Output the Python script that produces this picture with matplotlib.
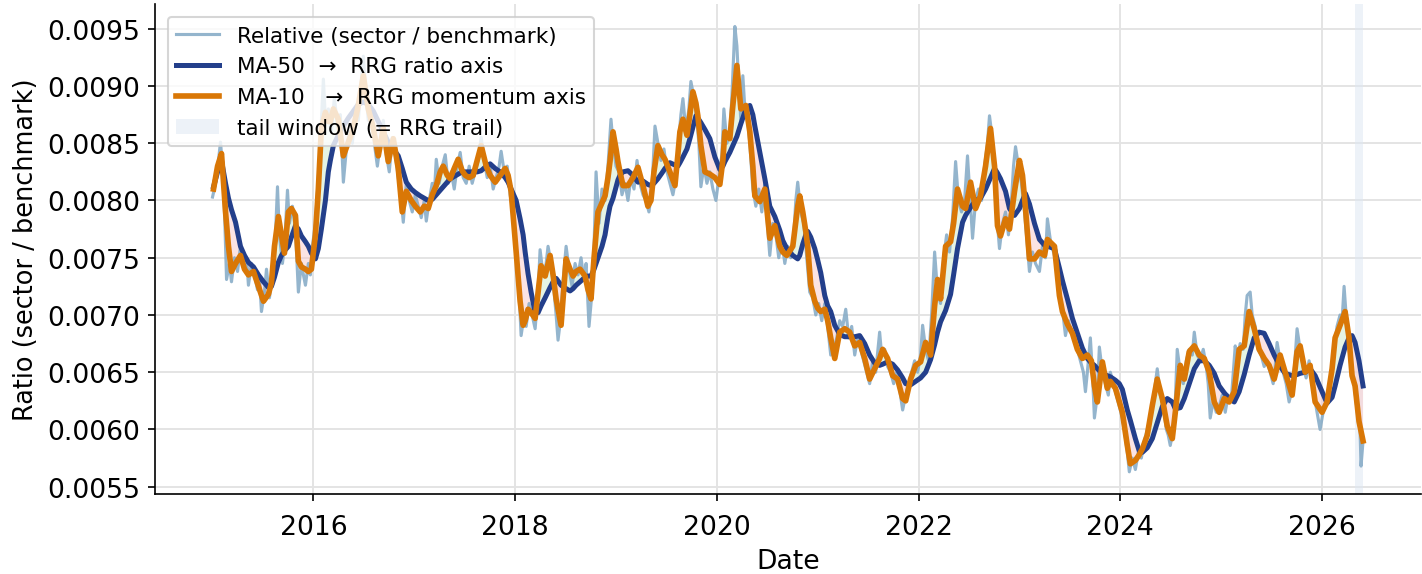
import numpy as np
import pandas as pd
import matplotlib
matplotlib.use("Agg")
import matplotlib.pyplot as plt
import matplotlib.dates as mdates
from matplotlib.patches import Patch

# relative ratio (sector / benchmark), time in decimal years
rel_years = [
    2015.000, 2015.030, 2015.059, 2015.079, 2015.099, 2015.119, 2015.139, 2015.168, 2015.188, 2015.218,
    2015.248, 2015.277, 2015.307, 2015.337, 2015.356, 2015.386, 2015.416, 2015.446, 2015.465, 2015.485,
    2015.515, 2015.535, 2015.564, 2015.594, 2015.624, 2015.644, 2015.663, 2015.693, 2015.713, 2015.743,
    2015.762, 2015.792, 2015.822, 2015.851, 2015.881, 2015.901, 2015.921, 2015.950, 2015.970, 2015.990,
    2016.020, 2016.049, 2016.069, 2016.099, 2016.119, 2016.148, 2016.178, 2016.208, 2016.238, 2016.267,
    2016.297, 2016.327, 2016.356, 2016.386, 2016.416, 2016.445, 2016.475, 2016.495, 2016.515, 2016.544,
    2016.574, 2016.604, 2016.634, 2016.663, 2016.693, 2016.723, 2016.752, 2016.782, 2016.812, 2016.841,
    2016.871, 2016.891, 2016.921, 2016.950, 2016.980, 2017.010, 2017.039, 2017.069, 2017.099, 2017.119,
    2017.148, 2017.178, 2017.198, 2017.218, 2017.247, 2017.277, 2017.307, 2017.336, 2017.366, 2017.396,
    2017.426, 2017.455, 2017.485, 2017.515, 2017.544, 2017.574, 2017.604, 2017.633, 2017.663, 2017.693,
    2017.723, 2017.752, 2017.782, 2017.812, 2017.841, 2017.861, 2017.891, 2017.921, 2017.950, 2017.980,
    2018.010, 2018.039, 2018.059, 2018.089, 2018.109, 2018.138, 2018.168, 2018.198, 2018.227, 2018.247,
    2018.277, 2018.307, 2018.326, 2018.356, 2018.386, 2018.406, 2018.425, 2018.455, 2018.475, 2018.505,
    2018.534, 2018.564, 2018.594, 2018.623, 2018.653, 2018.683, 2018.703, 2018.732, 2018.762, 2018.782,
    2018.802, 2018.831, 2018.861, 2018.891, 2018.920, 2018.950, 2018.970, 2019.000, 2019.029, 2019.059,
    2019.089, 2019.118, 2019.148, 2019.178, 2019.208, 2019.237, 2019.267, 2019.297, 2019.326, 2019.356,
    2019.386, 2019.415, 2019.445, 2019.475, 2019.505, 2019.534, 2019.564, 2019.594, 2019.623, 2019.643,
    2019.663, 2019.693, 2019.722, 2019.742, 2019.772, 2019.802, 2019.821, 2019.841, 2019.871, 2019.901,
    2019.930, 2019.960, 2019.990, 2020.019, 2020.049, 2020.069, 2020.099, 2020.128, 2020.148, 2020.178,
    2020.198, 2020.217, 2020.237, 2020.257, 2020.277, 2020.306, 2020.326, 2020.356, 2020.386, 2020.415,
    2020.445, 2020.475, 2020.504, 2020.524, 2020.554, 2020.584, 2020.613, 2020.643, 2020.673, 2020.702,
    2020.732, 2020.762, 2020.782, 2020.801, 2020.831, 2020.861, 2020.891, 2020.920, 2020.950, 2020.980,
    2021.009, 2021.039, 2021.069, 2021.098, 2021.128, 2021.158, 2021.188, 2021.217, 2021.247, 2021.277,
    2021.306, 2021.336, 2021.366, 2021.395, 2021.425, 2021.455, 2021.485, 2021.514, 2021.544, 2021.574,
    2021.613, 2021.633, 2021.663, 2021.692, 2021.722, 2021.752, 2021.782, 2021.811, 2021.841, 2021.871,
    2021.900, 2021.930, 2021.960, 2021.989, 2022.019, 2022.039, 2022.069, 2022.098, 2022.128, 2022.158,
    2022.187, 2022.217, 2022.247, 2022.277, 2022.306, 2022.336, 2022.366, 2022.395, 2022.425, 2022.455,
    2022.484, 2022.504, 2022.534, 2022.564, 2022.593, 2022.623, 2022.653, 2022.682, 2022.702, 2022.722,
    2022.742, 2022.762, 2022.781, 2022.801, 2022.831, 2022.861, 2022.890, 2022.920, 2022.940, 2022.960,
    2022.989, 2023.019, 2023.049, 2023.078, 2023.098, 2023.128, 2023.158, 2023.197, 2023.227, 2023.257,
    2023.276, 2023.306, 2023.336, 2023.366, 2023.395, 2023.425, 2023.455, 2023.484, 2023.514, 2023.544,
    2023.573, 2023.603, 2023.633, 2023.653, 2023.672, 2023.702, 2023.722, 2023.742, 2023.771, 2023.791,
    2023.821, 2023.851, 2023.880, 2023.900, 2023.930, 2023.960, 2023.989, 2024.019, 2024.039, 2024.068,
    2024.088, 2024.118, 2024.148, 2024.177, 2024.207, 2024.237, 2024.266, 2024.296, 2024.326, 2024.346,
    2024.365, 2024.395, 2024.425, 2024.455, 2024.474, 2024.494, 2024.524, 2024.544, 2024.563, 2024.593,
    2024.623, 2024.653, 2024.682, 2024.712, 2024.732, 2024.761, 2024.791, 2024.821, 2024.851, 2024.870,
    2024.890, 2024.920, 2024.950, 2024.979, 2025.009, 2025.039, 2025.068, 2025.098, 2025.138, 2025.157,
    2025.187, 2025.217, 2025.237, 2025.256, 2025.286, 2025.306, 2025.336, 2025.365, 2025.395, 2025.425,
    2025.454, 2025.484, 2025.514, 2025.534, 2025.553, 2025.583, 2025.613, 2025.643, 2025.672, 2025.702,
    2025.722, 2025.751, 2025.781, 2025.811, 2025.841, 2025.870, 2025.900, 2025.930, 2025.949, 2025.979,
    2026.009, 2026.039, 2026.068, 2026.088, 2026.118, 2026.147, 2026.177, 2026.197, 2026.217, 2026.237,
    2026.256, 2026.276, 2026.296, 2026.316, 2026.336, 2026.355, 2026.375, 2026.385, 2026.405,
]
rel_values = [
    0.00803, 0.00815, 0.00835, 0.00851, 0.00830, 0.00790, 0.00731, 0.00745, 0.00729, 0.00750,
    0.00738, 0.00760, 0.00742, 0.00750, 0.00726, 0.00745, 0.00735, 0.00722, 0.00733, 0.00703,
    0.00720, 0.00740, 0.00715, 0.00735, 0.00770, 0.00812, 0.00770, 0.00745, 0.00760, 0.00809,
    0.00780, 0.00795, 0.00775, 0.00720, 0.00745, 0.00735, 0.00726, 0.00745, 0.00735, 0.00760,
    0.00780, 0.00820, 0.00850, 0.00906, 0.00870, 0.00880, 0.00860, 0.00890, 0.00865, 0.00875,
    0.00816, 0.00845, 0.00860, 0.00850, 0.00880, 0.00870, 0.00905, 0.00926, 0.00900, 0.00870,
    0.00880, 0.00850, 0.00830, 0.00850, 0.00870, 0.00840, 0.00825, 0.00855, 0.00840, 0.00820,
    0.00800, 0.00781, 0.00815, 0.00800, 0.00790, 0.00805, 0.00795, 0.00785, 0.00800, 0.00782,
    0.00800, 0.00815, 0.00805, 0.00836, 0.00815, 0.00830, 0.00840, 0.00815, 0.00825, 0.00810,
    0.00830, 0.00842, 0.00820, 0.00815, 0.00830, 0.00815, 0.00825, 0.00835, 0.00855, 0.00835,
    0.00820, 0.00830, 0.00810, 0.00820, 0.00830, 0.00843, 0.00825, 0.00830, 0.00805, 0.00790,
    0.00750, 0.00720, 0.00682, 0.00700, 0.00690, 0.00710, 0.00700, 0.00688, 0.00720, 0.00757,
    0.00735, 0.00745, 0.00760, 0.00745, 0.00720, 0.00700, 0.00678, 0.00700, 0.00730, 0.00760,
    0.00740, 0.00725, 0.00745, 0.00735, 0.00750, 0.00730, 0.00745, 0.00690, 0.00720, 0.00760,
    0.00825, 0.00780, 0.00810, 0.00800, 0.00830, 0.00871, 0.00850, 0.00830, 0.00825, 0.00805,
    0.00815, 0.00800, 0.00820, 0.00810, 0.00835, 0.00815, 0.00805, 0.00800, 0.00790, 0.00810,
    0.00865, 0.00850, 0.00835, 0.00845, 0.00825, 0.00815, 0.00805, 0.00820, 0.00855, 0.00875,
    0.00889, 0.00860, 0.00880, 0.00904, 0.00890, 0.00870, 0.00850, 0.00812, 0.00830, 0.00815,
    0.00825, 0.00810, 0.00800, 0.00820, 0.00840, 0.00880, 0.00850, 0.00860, 0.00890, 0.00952,
    0.00935, 0.00900, 0.00870, 0.00909, 0.00880, 0.00870, 0.00850, 0.00810, 0.00795, 0.00810,
    0.00790, 0.00815, 0.00775, 0.00752, 0.00780, 0.00770, 0.00750, 0.00765, 0.00745, 0.00760,
    0.00750, 0.00770, 0.00800, 0.00816, 0.00790, 0.00780, 0.00750, 0.00720, 0.00715, 0.00700,
    0.00710, 0.00695, 0.00710, 0.00690, 0.00665, 0.00670, 0.00680, 0.00695, 0.00690, 0.00705,
    0.00680, 0.00690, 0.00665, 0.00680, 0.00670, 0.00660, 0.00650, 0.00640, 0.00660, 0.00650,
    0.00685, 0.00665, 0.00670, 0.00655, 0.00650, 0.00640, 0.00650, 0.00635, 0.00617, 0.00630,
    0.00640, 0.00650, 0.00660, 0.00650, 0.00665, 0.00691, 0.00670, 0.00660, 0.00700, 0.00755,
    0.00720, 0.00710, 0.00750, 0.00770, 0.00755, 0.00785, 0.00834, 0.00800, 0.00790, 0.00800,
    0.00839, 0.00810, 0.00767, 0.00800, 0.00810, 0.00800, 0.00830, 0.00850, 0.00874, 0.00860,
    0.00840, 0.00800, 0.00780, 0.00758, 0.00780, 0.00790, 0.00770, 0.00800, 0.00830, 0.00847,
    0.00830, 0.00815, 0.00790, 0.00760, 0.00738, 0.00755, 0.00745, 0.00738, 0.00760, 0.00750,
    0.00784, 0.00765, 0.00755, 0.00745, 0.00720, 0.00705, 0.00682, 0.00695, 0.00685, 0.00680,
    0.00670, 0.00660, 0.00650, 0.00633, 0.00650, 0.00680, 0.00650, 0.00610, 0.00630, 0.00672,
    0.00650, 0.00640, 0.00630, 0.00650, 0.00640, 0.00630, 0.00620, 0.00610, 0.00600, 0.00580,
    0.00563, 0.00575, 0.00565, 0.00580, 0.00575, 0.00590, 0.00600, 0.00610, 0.00625, 0.00640,
    0.00653, 0.00630, 0.00620, 0.00600, 0.00595, 0.00586, 0.00600, 0.00625, 0.00670, 0.00650,
    0.00640, 0.00660, 0.00670, 0.00665, 0.00685, 0.00665, 0.00660, 0.00670, 0.00655, 0.00640,
    0.00610, 0.00625, 0.00615, 0.00620, 0.00630, 0.00615, 0.00630, 0.00625, 0.00673, 0.00660,
    0.00675, 0.00670, 0.00700, 0.00717, 0.00720, 0.00700, 0.00690, 0.00670, 0.00665, 0.00655,
    0.00660, 0.00650, 0.00640, 0.00655, 0.00676, 0.00660, 0.00650, 0.00640, 0.00624, 0.00635,
    0.00650, 0.00688, 0.00670, 0.00655, 0.00645, 0.00660, 0.00645, 0.00625, 0.00615, 0.00600,
    0.00615, 0.00625, 0.00630, 0.00650, 0.00670, 0.00690, 0.00700, 0.00695, 0.00725, 0.00700,
    0.00690, 0.00660, 0.00650, 0.00640, 0.00625, 0.00610, 0.00600, 0.00568, 0.00590,
]

# moving averages at shared dates
ma_years = [
    2015.010, 2015.050, 2015.089, 2015.129, 2015.158, 2015.188, 2015.228, 2015.277, 2015.317, 2015.356,
    2015.406, 2015.455, 2015.505, 2015.554, 2015.584, 2015.614, 2015.653, 2015.683, 2015.713, 2015.752,
    2015.782, 2015.822, 2015.851, 2015.881, 2015.921, 2015.950, 2015.980, 2016.020, 2016.049, 2016.079,
    2016.119, 2016.148, 2016.168, 2016.198, 2016.247, 2016.297, 2016.346, 2016.396, 2016.445, 2016.495,
    2016.544, 2016.594, 2016.643, 2016.693, 2016.742, 2016.792, 2016.841, 2016.881, 2016.921, 2016.970,
    2017.010, 2017.059, 2017.099, 2017.138, 2017.178, 2017.218, 2017.257, 2017.287, 2017.327, 2017.356,
    2017.396, 2017.435, 2017.475, 2017.505, 2017.544, 2017.584, 2017.624, 2017.663, 2017.713, 2017.752,
    2017.802, 2017.851, 2017.901, 2017.930, 2017.960, 2018.010, 2018.049, 2018.079, 2018.099, 2018.128,
    2018.158, 2018.198, 2018.227, 2018.257, 2018.297, 2018.346, 2018.376, 2018.406, 2018.455, 2018.505,
    2018.544, 2018.574, 2018.604, 2018.643, 2018.693, 2018.722, 2018.752, 2018.782, 2018.821, 2018.861,
    2018.891, 2018.920, 2018.940, 2018.970, 2019.000, 2019.019, 2019.039, 2019.069, 2019.118, 2019.168,
    2019.217, 2019.267, 2019.316, 2019.346, 2019.376, 2019.415, 2019.455, 2019.485, 2019.534, 2019.584,
    2019.613, 2019.633, 2019.663, 2019.703, 2019.732, 2019.762, 2019.792, 2019.811, 2019.841, 2019.881,
    2019.930, 2019.980, 2020.029, 2020.059, 2020.079, 2020.128, 2020.158, 2020.198, 2020.237, 2020.287,
    2020.326, 2020.356, 2020.376, 2020.425, 2020.475, 2020.524, 2020.574, 2020.623, 2020.653, 2020.693,
    2020.752, 2020.801, 2020.821, 2020.851, 2020.881, 2020.900, 2020.930, 2020.970, 2020.999, 2021.029,
    2021.069, 2021.098, 2021.128, 2021.168, 2021.217, 2021.267, 2021.316, 2021.366, 2021.415, 2021.465,
    2021.514, 2021.564, 2021.613, 2021.643, 2021.692, 2021.742, 2021.791, 2021.841, 2021.871, 2021.920,
    2021.970, 2022.019, 2022.069, 2022.118, 2022.158, 2022.187, 2022.217, 2022.267, 2022.316, 2022.346,
    2022.385, 2022.435, 2022.465, 2022.514, 2022.564, 2022.613, 2022.663, 2022.712, 2022.752, 2022.781,
    2022.811, 2022.861, 2022.900, 2022.950, 2022.999, 2023.029, 2023.059, 2023.098, 2023.148, 2023.197,
    2023.247, 2023.276, 2023.346, 2023.395, 2023.425, 2023.474, 2023.524, 2023.573, 2023.623, 2023.672,
    2023.712, 2023.742, 2023.771, 2023.821, 2023.870, 2023.900, 2023.950, 2023.989, 2024.019, 2024.068,
    2024.098, 2024.148, 2024.187, 2024.217, 2024.266, 2024.316, 2024.365, 2024.415, 2024.464, 2024.514,
    2024.544, 2024.593, 2024.633, 2024.682, 2024.732, 2024.781, 2024.831, 2024.880, 2024.930, 2024.979,
    2025.029, 2025.078, 2025.128, 2025.177, 2025.227, 2025.276, 2025.326, 2025.375, 2025.425, 2025.474,
    2025.524, 2025.583, 2025.633, 2025.702, 2025.751, 2025.781, 2025.831, 2025.880, 2025.930, 2025.999,
    2026.048, 2026.098, 2026.128, 2026.177, 2026.227, 2026.266, 2026.296, 2026.326, 2026.365, 2026.405,
]
ma10_values = [
    0.00810, 0.00830, 0.00841, 0.00790, 0.00760, 0.00738, 0.00745, 0.00752, 0.00740, 0.00735,
    0.00738, 0.00725, 0.00712, 0.00718, 0.00728, 0.00760, 0.00786, 0.00770, 0.00754, 0.00790,
    0.00793, 0.00787, 0.00747, 0.00742, 0.00740, 0.00738, 0.00740, 0.00770, 0.00810, 0.00863,
    0.00877, 0.00869, 0.00869, 0.00880, 0.00871, 0.00839, 0.00851, 0.00863, 0.00883, 0.00909,
    0.00880, 0.00863, 0.00839, 0.00863, 0.00834, 0.00854, 0.00828, 0.00790, 0.00808, 0.00800,
    0.00795, 0.00790, 0.00795, 0.00793, 0.00805, 0.00813, 0.00825, 0.00830, 0.00822, 0.00819,
    0.00828, 0.00836, 0.00826, 0.00822, 0.00820, 0.00822, 0.00835, 0.00848, 0.00830, 0.00822,
    0.00816, 0.00822, 0.00828, 0.00822, 0.00808, 0.00755, 0.00712, 0.00691, 0.00695, 0.00705,
    0.00702, 0.00697, 0.00720, 0.00743, 0.00734, 0.00752, 0.00735, 0.00714, 0.00691, 0.00749,
    0.00740, 0.00734, 0.00738, 0.00740, 0.00734, 0.00722, 0.00714, 0.00750, 0.00790, 0.00798,
    0.00804, 0.00820, 0.00834, 0.00860, 0.00845, 0.00834, 0.00825, 0.00813, 0.00813, 0.00820,
    0.00829, 0.00813, 0.00795, 0.00800, 0.00825, 0.00848, 0.00840, 0.00836, 0.00825, 0.00813,
    0.00840, 0.00860, 0.00871, 0.00857, 0.00875, 0.00895, 0.00885, 0.00874, 0.00848, 0.00825,
    0.00823, 0.00820, 0.00814, 0.00835, 0.00860, 0.00854, 0.00883, 0.00918, 0.00880, 0.00883,
    0.00860, 0.00830, 0.00804, 0.00799, 0.00810, 0.00767, 0.00778, 0.00760, 0.00755, 0.00752,
    0.00760, 0.00795, 0.00804, 0.00790, 0.00773, 0.00760, 0.00726, 0.00712, 0.00706, 0.00703,
    0.00705, 0.00695, 0.00680, 0.00662, 0.00685, 0.00688, 0.00685, 0.00673, 0.00676, 0.00662,
    0.00644, 0.00653, 0.00662, 0.00670, 0.00662, 0.00647, 0.00644, 0.00627, 0.00625, 0.00644,
    0.00656, 0.00659, 0.00676, 0.00665, 0.00708, 0.00731, 0.00714, 0.00760, 0.00764, 0.00780,
    0.00810, 0.00795, 0.00793, 0.00816, 0.00793, 0.00804, 0.00830, 0.00863, 0.00830, 0.00778,
    0.00769, 0.00784, 0.00775, 0.00808, 0.00835, 0.00822, 0.00793, 0.00749, 0.00749, 0.00755,
    0.00752, 0.00766, 0.00760, 0.00717, 0.00703, 0.00692, 0.00684, 0.00670, 0.00662, 0.00665,
    0.00660, 0.00638, 0.00624, 0.00659, 0.00636, 0.00642, 0.00636, 0.00624, 0.00615, 0.00586,
    0.00570, 0.00573, 0.00578, 0.00583, 0.00595, 0.00621, 0.00644, 0.00627, 0.00603, 0.00592,
    0.00615, 0.00656, 0.00644, 0.00668, 0.00673, 0.00665, 0.00662, 0.00650, 0.00624, 0.00615,
    0.00627, 0.00624, 0.00633, 0.00670, 0.00673, 0.00703, 0.00688, 0.00670, 0.00662, 0.00656,
    0.00644, 0.00665, 0.00650, 0.00630, 0.00668, 0.00673, 0.00650, 0.00656, 0.00624, 0.00615,
    0.00624, 0.00653, 0.00680, 0.00691, 0.00703, 0.00680, 0.00647, 0.00638, 0.00607, 0.00590,
]
ma50_values = [
    0.00812, 0.00825, 0.00835, 0.00815, 0.00802, 0.00792, 0.00781, 0.00760, 0.00752, 0.00746,
    0.00742, 0.00735, 0.00729, 0.00724, 0.00725, 0.00733, 0.00746, 0.00752, 0.00756, 0.00760,
    0.00768, 0.00778, 0.00775, 0.00769, 0.00764, 0.00760, 0.00754, 0.00749, 0.00758, 0.00775,
    0.00800, 0.00825, 0.00835, 0.00848, 0.00857, 0.00865, 0.00872, 0.00878, 0.00884, 0.00886,
    0.00884, 0.00878, 0.00869, 0.00860, 0.00851, 0.00845, 0.00839, 0.00828, 0.00816, 0.00810,
    0.00807, 0.00804, 0.00802, 0.00800, 0.00801, 0.00805, 0.00809, 0.00812, 0.00816, 0.00819,
    0.00821, 0.00823, 0.00825, 0.00825, 0.00825, 0.00825, 0.00825, 0.00826, 0.00830, 0.00832,
    0.00828, 0.00825, 0.00820, 0.00816, 0.00810, 0.00800, 0.00784, 0.00770, 0.00755, 0.00736,
    0.00720, 0.00702, 0.00702, 0.00708, 0.00715, 0.00724, 0.00729, 0.00732, 0.00726, 0.00723,
    0.00721, 0.00723, 0.00726, 0.00729, 0.00733, 0.00734, 0.00734, 0.00740, 0.00750, 0.00760,
    0.00770, 0.00786, 0.00795, 0.00802, 0.00812, 0.00818, 0.00822, 0.00825, 0.00826, 0.00822,
    0.00816, 0.00817, 0.00814, 0.00813, 0.00815, 0.00819, 0.00824, 0.00828, 0.00833, 0.00831,
    0.00830, 0.00833, 0.00838, 0.00845, 0.00854, 0.00864, 0.00874, 0.00872, 0.00868, 0.00862,
    0.00854, 0.00838, 0.00827, 0.00830, 0.00834, 0.00842, 0.00848, 0.00856, 0.00867, 0.00880,
    0.00883, 0.00875, 0.00865, 0.00842, 0.00819, 0.00795, 0.00786, 0.00774, 0.00765, 0.00758,
    0.00752, 0.00749, 0.00752, 0.00762, 0.00770, 0.00773, 0.00768, 0.00758, 0.00748, 0.00737,
    0.00717, 0.00708, 0.00703, 0.00691, 0.00683, 0.00681, 0.00681, 0.00681, 0.00682, 0.00675,
    0.00665, 0.00658, 0.00656, 0.00657, 0.00659, 0.00657, 0.00652, 0.00645, 0.00640, 0.00639,
    0.00642, 0.00645, 0.00650, 0.00661, 0.00674, 0.00685, 0.00694, 0.00704, 0.00718, 0.00735,
    0.00758, 0.00781, 0.00787, 0.00794, 0.00800, 0.00802, 0.00810, 0.00820, 0.00828, 0.00824,
    0.00819, 0.00808, 0.00793, 0.00787, 0.00793, 0.00800, 0.00806, 0.00797, 0.00780, 0.00766,
    0.00761, 0.00760, 0.00758, 0.00741, 0.00730, 0.00714, 0.00697, 0.00684, 0.00671, 0.00662,
    0.00658, 0.00656, 0.00653, 0.00649, 0.00647, 0.00646, 0.00643, 0.00640, 0.00635, 0.00617,
    0.00608, 0.00592, 0.00581, 0.00580, 0.00584, 0.00592, 0.00606, 0.00620, 0.00627, 0.00624,
    0.00618, 0.00619, 0.00627, 0.00640, 0.00653, 0.00660, 0.00660, 0.00656, 0.00649, 0.00638,
    0.00632, 0.00627, 0.00624, 0.00633, 0.00648, 0.00665, 0.00680, 0.00685, 0.00684, 0.00675,
    0.00665, 0.00655, 0.00649, 0.00647, 0.00648, 0.00649, 0.00650, 0.00653, 0.00647, 0.00633,
    0.00623, 0.00628, 0.00638, 0.00656, 0.00672, 0.00680, 0.00682, 0.00676, 0.00660, 0.00638,
]

tail_start = 2026.326   # start of the RRG tail window


def to_dates(years):
    years = np.asarray(years, dtype=float)
    return pd.Timestamp("2015-01-01") + pd.to_timedelta((years - 2015.0) * 365.25, unit="D")


rel_dates = to_dates(rel_years)
ma_dates = to_dates(ma_years)
ma10 = np.array(ma10_values)
ma50 = np.array(ma50_values)

fig, ax = plt.subplots(figsize=(9.48, 3.833), dpi=150)
fig.subplots_adjust(left=0.109, right=0.999, top=0.991, bottom=0.139)

ax.grid(True, color="#e3e3e3", linewidth=0.9)
ax.set_axisbelow(True)

ax.axvspan(to_dates([tail_start])[0], rel_dates[-1], color="#dde7f3", alpha=0.5, lw=0)

ax.fill_between(ma_dates, ma10, ma50, where=ma10 >= ma50, interpolate=True,
                color="#cdebcd", alpha=0.5, lw=0)
ax.fill_between(ma_dates, ma10, ma50, where=ma10 < ma50, interpolate=True,
                color="#f9c8c8", alpha=0.5, lw=0)

ax.plot(rel_dates, rel_values, color="#82a8c5", lw=1.5, alpha=0.85)
ax.plot(ma_dates, ma50, color="#233f8b", lw=2.4)
ax.plot(ma_dates, ma10, color="#d97706", lw=2.7)

ax.xaxis.set_major_locator(mdates.YearLocator(2))
ax.xaxis.set_major_formatter(mdates.DateFormatter("%Y"))

ax.set_xlabel("Date", fontsize=12.8)
ax.set_ylabel("Ratio (sector / benchmark)", fontsize=12.3)
ax.tick_params(labelsize=12.8)
ax.tick_params(axis="x", pad=6)

for s in ["top", "right"]:
    ax.spines[s].set_visible(False)

handles = [
    plt.Line2D([], [], color="#82a8c5", lw=1.5, alpha=0.85),
    plt.Line2D([], [], color="#233f8b", lw=2.4),
    plt.Line2D([], [], color="#d97706", lw=2.7),
    Patch(facecolor="#dde7f3", alpha=0.5, edgecolor="none"),
]
labels = [
    "Relative (sector / benchmark)",
    "MA-50  \u2192  RRG ratio axis",
    "MA-10   \u2192  RRG momentum axis",
    "tail window (= RRG trail)",
]
ax.legend(handles, labels, loc="upper left", fontsize=10.3, framealpha=0.8,
          borderaxespad=0.6)

fig.savefig("out.png", dpi=150)
